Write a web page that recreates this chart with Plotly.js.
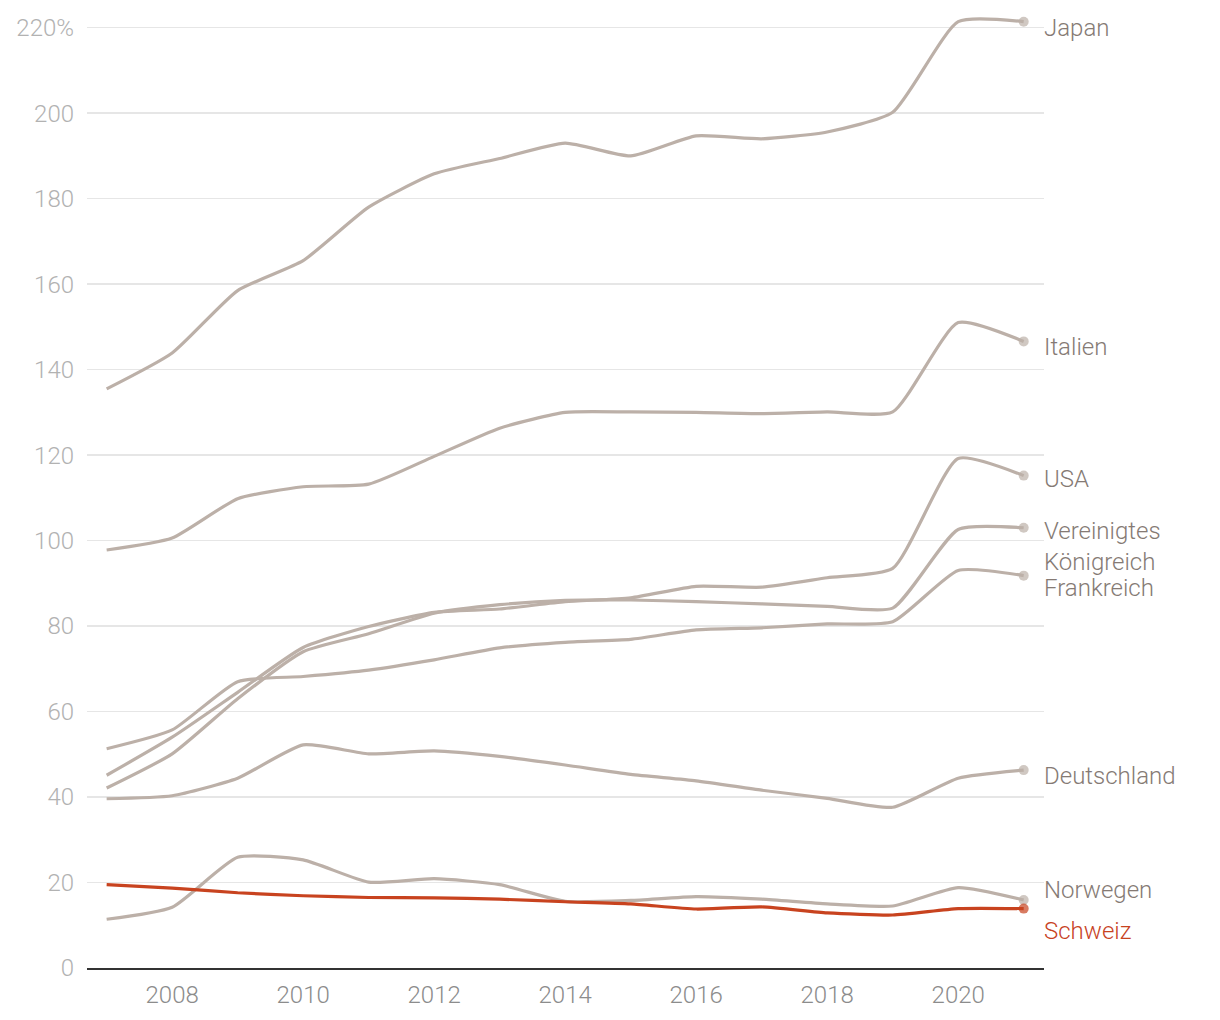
<!DOCTYPE html>
<html>
<head>
<meta charset="utf-8">
<script src="https://cdn.plot.ly/plotly-3.0.1.min.js"></script>
<style>
  html, body { margin: 0; padding: 0; background: #fff; }
  #chart { width: 1220px; height: 1020px; }
</style>
</head>
<body>
<div id="chart"></div>
<script>
const years = [2007, 2008, 2009, 2010, 2011, 2012, 2013, 2014, 2015, 2016, 2017, 2018, 2019, 2020, 2021];

const japan       = [135.5, 143.9, 158.5, 165.5, 178.0, 185.8, 189.4, 193.0, 190.0, 194.7, 194.0, 195.6, 200.2, 221.4, 221.4];
const italien     = [97.8, 100.6, 109.8, 112.6, 113.2, 119.7, 126.3, 130.0, 130.1, 130.0, 129.7, 130.1, 130.1, 151.0, 146.6];
const usa         = [45.1, 54.0, 64.5, 75.0, 79.9, 83.2, 84.0, 85.7, 86.6, 89.3, 89.1, 91.3, 93.5, 119.2, 115.2];
const uk          = [42.1, 50.1, 63.0, 74.0, 78.2, 83.0, 85.0, 86.0, 86.1, 85.7, 85.2, 84.6, 84.2, 102.6, 103.0];
const frankreich  = [51.3, 55.7, 67.0, 68.2, 69.7, 72.1, 74.9, 76.2, 76.9, 79.1, 79.6, 80.5, 81.0, 93.0, 91.8];
const deutschland = [39.6, 40.3, 44.4, 52.2, 50.1, 50.8, 49.5, 47.5, 45.3, 43.8, 41.6, 39.7, 37.6, 44.4, 46.3];
const norwegen    = [11.4, 14.2, 25.9, 25.3, 20.1, 20.9, 19.5, 15.6, 15.8, 16.7, 16.1, 15.0, 14.5, 18.8, 15.9];
const schweiz     = [19.5, 18.7, 17.6, 16.9, 16.5, 16.4, 16.1, 15.5, 15.0, 13.8, 14.3, 12.9, 12.4, 13.9, 13.9];

const countries = ["Japan", "Italien", "USA", "Vereinigtes<br>Königreich", "Frankreich", "Deutschland", "Norwegen", "Schweiz"];
const seriesList = [japan, italien, usa, uk, frankreich, deutschland, norwegen, schweiz];
const labelShift = [-6, -6, -3, -19, -12, -6, 10, -22];

const yTickVals = [0, 20, 40, 60, 80, 100, 120, 140, 160, 180, 200, 220];
const yTickText = ["0", "20", "40", "60", "80", "100", "120", "140", "160", "180", "200", "220%"];
const xTickVals = [2008, 2010, 2012, 2014, 2016, 2018, 2020];

const GREY = "#bcb0a8";
const RED = "#c8431f";
const FONT = "Roboto, 'Noto Sans', sans-serif";

const traces = [];
const annotations = [];
seriesList.forEach((vals, i) => {
  const isCH = countries[i] === "Schweiz";
  const col = isCH ? RED : GREY;
  traces.push({
    x: years,
    y: vals,
    type: "scatter",
    mode: "lines+markers",
    line: { color: col, width: 3.2, shape: "spline", smoothing: 0.55 },
    marker: { color: col, line: { width: 0 }, size: years.map((_, k) => k === years.length - 1 ? 10 : 0) },
    cliponaxis: false,
    hoverinfo: "skip",
    showlegend: false
  });
  annotations.push({
    x: years[years.length - 1],
    y: vals[vals.length - 1],
    xref: "x", yref: "y",
    text: countries[i],
    showarrow: false,
    xanchor: "left",
    yanchor: "middle",
    align: "left",
    xshift: 18,
    yshift: labelShift[i],
    font: { family: FONT, size: 24, color: isCH ? RED : "#857a74", weight: 300 }
  });
});

const layout = {
  width: 1220,
  height: 1020,
  margin: { l: 87, r: 176, t: 17.3, b: 52 },
  paper_bgcolor: "#ffffff",
  plot_bgcolor: "#ffffff",
  showlegend: false,
  font: { family: FONT },
  xaxis: {
    range: [2006.70, 2021.31],
    tickvals: xTickVals,
    ticktext: xTickVals.map(String),
    showgrid: false,
    zeroline: false,
    showline: true,
    linecolor: "#333333",
    linewidth: 2,
    ticks: "",
    ticklabelstandoff: 4,
    tickfont: { family: FONT, size: 24, color: "#8c8c8c", weight: 300 },
    fixedrange: true
  },
  yaxis: {
    range: [0, 222.5],
    tickvals: yTickVals,
    ticktext: yTickText,
    showgrid: true,
    gridcolor: "#e6e6e6",
    gridwidth: 1.5,
    zeroline: false,
    showline: false,
    ticks: "",
    ticklabelstandoff: 12,
    tickfont: { family: FONT, size: 24, color: "#b2b2b2", weight: 300 },
    fixedrange: true
  },
  annotations: annotations
};

Plotly.newPlot("chart", traces, layout, { displayModeBar: false, staticPlot: true });
</script>
</body>
</html>
